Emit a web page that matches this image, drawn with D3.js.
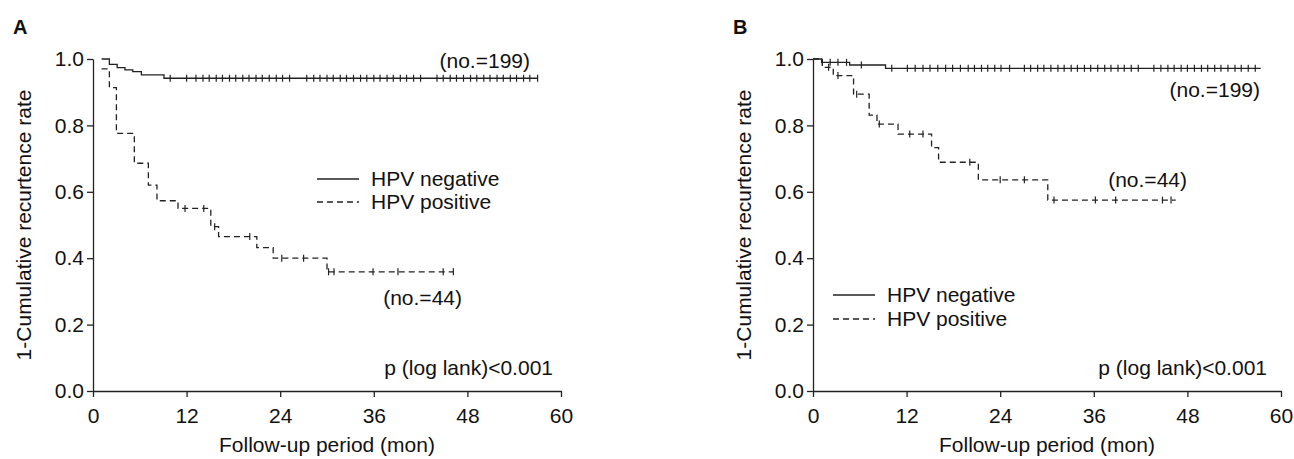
<!DOCTYPE html>
<html>
<head>
<meta charset="utf-8">
<script src="https://cdn.jsdelivr.net/npm/d3@7"></script>
<style>
	body { margin: 0; background: #fff; }
	text { font-family: "Liberation Sans", Arial, sans-serif; fill: #111; }
</style>
</head>
<body>
<svg id="chart" width="1294" height="459"></svg>
<script>

// tick labels
var monthTicks = [0, 12, 24, 36, 48, 60];
var rateTicks = [0, 0.2, 0.4, 0.6, 0.8, 1.0];

// panel A - step curves (time in months, 1 - cumulative recurrence)
var aNegTime = [1.1, 2.1, 3.1, 4.1, 5.1, 6.2, 9.1, 57.0];
var aNegRate = [1.0, 0.984, 0.974, 0.967, 0.962, 0.952, 0.942, 0.942];
var aNegCensor = [9.9, 12.0, 13.2, 14.1, 14.9, 15.8, 16.6, 17.5, 18.3, 19.2, 20.0, 20.9, 21.7, 22.6, 23.5, 24.3, 25.2,
	27.4, 28.3, 29.1, 30.0, 30.8, 31.7, 32.5, 33.4, 34.3, 35.1, 36.0, 36.8, 37.7, 38.5, 39.4, 40.2, 41.1, 42.0,
	44.1, 44.9, 45.8, 46.6, 47.5, 48.4, 49.2, 50.1, 50.9, 51.8, 52.6, 53.5, 54.3, 55.2, 56.0, 57.0];

var aPosTime = [1.1, 2.1, 3.0, 5.3, 7.1, 8.2, 10.9, 15.1, 16.1, 21.0, 23.1, 30.0, 46.2];
var aPosRate = [0.97, 0.914, 0.776, 0.686, 0.62, 0.573, 0.55, 0.495, 0.465, 0.432, 0.4, 0.359, 0.359];
var aPosCensor = [11.8, 14.2, 15.6, 20.1, 24.2, 27.0, 30.2, 30.9, 35.9, 39.1, 44.9, 46.2];

// panel B
var bNegTime = [0, 1.1, 4.7, 9.3, 57.4];
var bNegRate = [1.0, 0.99, 0.982, 0.972, 0.972];
var bNegCensor = [1.2, 2.2, 3.2, 4.3, 6.2, 10.1, 12.1, 13.1, 14.1, 15.0, 16.0, 17.0, 17.9, 18.9, 19.9, 20.7, 21.6, 22.4, 23.3, 24.1, 25.2,
	27.1, 27.9, 28.8, 29.6, 30.5, 31.4, 32.2, 33.1, 33.9, 34.8, 35.6, 36.5, 37.4, 38.2, 39.1, 39.9, 40.8, 41.7,
	43.7, 44.6, 45.5, 46.3, 47.2, 48.0, 48.9, 49.8, 50.6, 51.5, 52.3, 53.2, 54.1, 54.9, 55.8, 56.7];

var bPosTime = [0, 1.2, 2.6, 5.2, 7.2, 8.2, 10.9, 15.2, 16.1, 21.2, 30.1, 46.5];
var bPosRate = [1.0, 0.975, 0.95, 0.894, 0.831, 0.804, 0.774, 0.733, 0.689, 0.636, 0.575, 0.575];
var bPosCensor = [2.0, 3.2, 5.6, 8.5, 12.4, 14.1, 20.1, 24.0, 27.1, 30.9, 36.2, 38.8, 44.8, 45.9];

var svg = d3.select("#chart");
var plotTop = 59, plotHeight = 332, plotWidth = 468;
var fontSize = 21;

function rateAt(times, rates, t)
{
	var r = rates[0];
	for (var i = 0; i < times.length; i++) {
		if (times[i] <= t) r = rates[i];
	}
	return r;
}

function drawPanel(p)
{
	var g = svg.append("g").attr("transform", "translate(" + p.left + "," + plotTop + ")");

	var x = d3.scaleLinear().domain([0, 60]).range([0, plotWidth]);
	var y = d3.scaleLinear().domain([0, 1]).range([plotHeight, 0]);

	var xAxis = g.append("g")
		.attr("transform", "translate(0," + plotHeight + ")")
		.call(d3.axisBottom(x).tickValues(monthTicks).tickSize(6).tickSizeOuter(0).tickPadding(11));

	var yAxis = g.append("g")
		.call(d3.axisLeft(y).tickValues(rateTicks).tickSize(6).tickSizeOuter(0).tickPadding(3).tickFormat(d3.format(".1f")));

	[xAxis, yAxis].forEach(function (a) {
		a.selectAll("path, line").attr("stroke", "#222").attr("stroke-width", 1.3);
		a.selectAll("text").attr("font-size", fontSize).attr("fill", "#111")
			.style("font-family", "'Liberation Sans', Arial, sans-serif");
	});

	var line = d3.line()
		.x(function (d) { return x(d[0]); })
		.y(function (d) { return y(d[1]); })
		.curve(d3.curveStepAfter);

	function curve(times, rates, censor, dashed)
	{
		var pts = times.map(function (t, i) { return [t, rates[i]]; });
		g.append("path")
			.datum(pts)
			.attr("d", line)
			.attr("fill", "none")
			.attr("stroke", "#222")
			.attr("stroke-width", 1.3)
			.attr("stroke-dasharray", dashed ? "6,4" : null);

		g.selectAll(null)
			.data(censor)
			.enter().append("line")
			.attr("x1", function (t) { return x(t); })
			.attr("x2", function (t) { return x(t); })
			.attr("y1", function (t) { return y(rateAt(times, rates, t)) - 3.5; })
			.attr("y2", function (t) { return y(rateAt(times, rates, t)) + 3.5; })
			.attr("stroke", "#222")
			.attr("stroke-width", 1.2);
	}

	curve(p.negTime, p.negRate, p.negCensor, false);
	curve(p.posTime, p.posRate, p.posCensor, true);

	// legend
	var lg = g.append("g").attr("transform", "translate(" + p.legend[0] + "," + p.legend[1] + ")");
	[["HPV negative", null], ["HPV positive", "6,4"]].forEach(function (d, i) {
		lg.append("line")
			.attr("x1", 0).attr("x2", 42)
			.attr("y1", i * p.legendGap).attr("y2", i * p.legendGap)
			.attr("stroke", "#222").attr("stroke-width", 1.3)
			.attr("stroke-dasharray", d[1]);
		lg.append("text")
			.attr("x", 54).attr("y", i * p.legendGap + 7)
			.attr("font-size", fontSize)
			.text(d[0]);
	});

	p.notes.forEach(function (n) {
		g.append("text")
			.attr("x", n[1]).attr("y", n[2])
			.attr("text-anchor", "end")
			.attr("font-size", fontSize)
			.text(n[0]);
	});

	// axis titles
	g.append("text")
		.attr("x", plotWidth / 2).attr("y", 393)
		.attr("text-anchor", "middle")
		.attr("font-size", fontSize)
		.text("Follow-up period (mon)");

	g.append("text")
		.attr("transform", "translate(-62," + (plotHeight / 2) + ") rotate(-90)")
		.attr("text-anchor", "middle")
		.attr("font-size", fontSize)
		.text("1-Cumulative recurtence rate");

	svg.append("text")
		.attr("x", p.left - 80).attr("y", 34)
		.attr("font-size", 20)
		.attr("font-weight", "bold")
		.text(p.label);
}

drawPanel({
	label: "A", left: 93,
	negTime: aNegTime, negRate: aNegRate, negCensor: aNegCensor,
	posTime: aPosTime, posRate: aPosRate, posCensor: aPosCensor,
	legend: [224, 120], legendGap: 23,
	notes: [["(no.=199)", 437, 9], ["(no.=44)", 369, 246], ["p (log lank)<0.001", 460, 316]]
});

drawPanel({
	label: "B", left: 813,
	negTime: bNegTime, negRate: bNegRate, negCensor: bNegCensor,
	posTime: bPosTime, posRate: bPosRate, posCensor: bPosCensor,
	legend: [20, 236], legendGap: 24,
	notes: [["(no.=199)", 447, 38], ["(no.=44)", 374, 128], ["p (log lank)<0.001", 454, 316]]
});

</script>
</body>
</html>
